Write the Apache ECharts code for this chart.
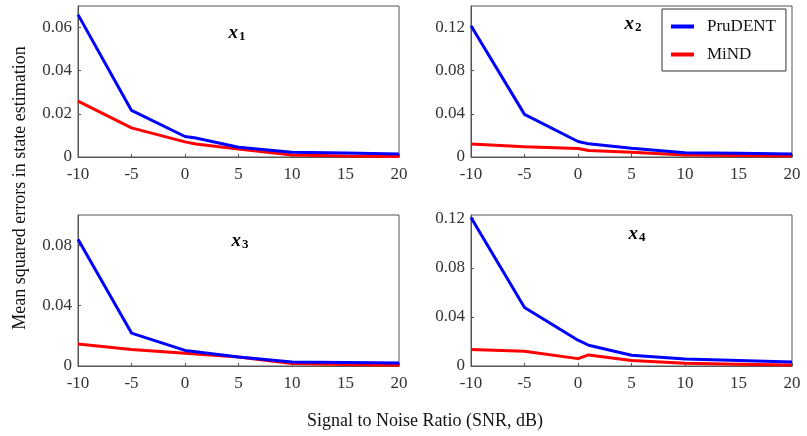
<!DOCTYPE html>
<html>
<head>
<meta charset="utf-8">
<script src="https://cdn.jsdelivr.net/npm/echarts@6/dist/echarts.min.js"></script>
<style>html,body{margin:0;padding:0;background:#fff}#c{width:807px;height:436px}</style>
</head>
<body>
<div id="c"></div>
<script>
const snr = [-10, -5, 0, 1, 5, 10, 15, 20];
const xTicks = [-10, -5, 0, 5, 10, 15, 20];
const seriesNames = ['PruDENT', 'MiND'];
const panelTitles = ['1', '2', '3', '4'];

const prudentX1 = [0.066, 0.0216, 0.0095, 0.0088, 0.0045, 0.0022, 0.0018, 0.0014];
const mindX1    = [0.0259, 0.0135, 0.0070, 0.0060, 0.0037, 0.0009, 0.0005, 0.0002];
const prudentX2 = [0.1217, 0.0395, 0.0144, 0.0122, 0.0082, 0.0040, 0.0034, 0.0028];
const mindX2    = [0.0120, 0.0094, 0.0078, 0.0060, 0.0044, 0.0019, 0.0014, 0.0010];
const prudentX3 = [0.0839, 0.0218, 0.0103, 0.0095, 0.0059, 0.0026, 0.0023, 0.0020];
const mindX3    = [0.0146, 0.0109, 0.0085, 0.0080, 0.0059, 0.0016, 0.0010, 0.0005];
const prudentX4 = [0.1209, 0.0476, 0.0210, 0.0169, 0.0087, 0.0057, 0.0045, 0.0033];
const mindX4    = [0.0134, 0.0120, 0.0060, 0.0090, 0.0044, 0.0022, 0.0015, 0.0008];

const yMax = [0.07, 0.14, 0.1, 0.123];
const yInterval = [0.02, 0.04, 0.04, 0.04];

const prudent = [prudentX1, prudentX2, prudentX3, prudentX4];
const mind = [mindX1, mindX2, mindX3, mindX4];

const FONT = '"Liberation Serif", "Times New Roman", serif';
const grids = [
  {left: 78, top: 6, width: 321, height: 151},
  {left: 471, top: 6, width: 321, height: 151},
  {left: 78, top: 215, width: 321, height: 151},
  {left: 471, top: 215, width: 321, height: 151}
];
const titlePos = [[237, 33], [633, 24], [240, 241], [637, 234]];

const option = {
  backgroundColor: '#fff',
  animation: false,
  grid: grids.map(g => Object.assign({show: true, borderColor: '#555', borderWidth: 1, backgroundColor: 'transparent'}, g)),
  xAxis: grids.map((g, i) => ({
    type: 'value', gridIndex: i, min: -10, max: 20, interval: 5,
    axisLine: {show: true, onZero: false, lineStyle: {color: '#555'}},
    axisTick: {show: true, inside: true, length: 3, lineStyle: {color: '#555'}},
    splitLine: {show: false},
    axisLabel: {fontFamily: FONT, fontSize: 17, color: '#333', margin: 9,
      formatter: v => xTicks.includes(v) ? String(v) : ''}
  })),
  yAxis: grids.map((g, i) => ({
    type: 'value', gridIndex: i, min: 0, max: yMax[i], interval: yInterval[i],
    axisLine: {show: true, onZero: false, lineStyle: {color: '#555'}},
    axisTick: {show: true, inside: true, length: 3, lineStyle: {color: '#555'}},
    splitLine: {show: false},
    axisLabel: {fontFamily: FONT, fontSize: 17, color: '#333', margin: 6, showMaxLabel: false,
      formatter: v => v === 0 ? '0' : String(+v.toFixed(3))}
  })),
  legend: {
    data: seriesNames,
    orient: 'vertical',
    left: 662, top: 9,
    borderColor: '#333', borderWidth: 1,
    padding: [9, 10, 8, 9],
    itemWidth: 23, itemHeight: 4, itemGap: 11,
    icon: 'rect',
    textStyle: {fontFamily: FONT, fontSize: 17, color: '#111', padding: [0, 0, 0, 8]}
  },
  series: [],
  graphic: [
    {type: 'text', x: 425, y: 421, style: {text: 'Signal to Noise Ratio (SNR, dB)', font: '18px ' + FONT, fill: '#111', align: 'center', verticalAlign: 'middle'}},
    {type: 'text', x: 20, y: 188, rotation: Math.PI / 2, style: {text: 'Mean squared errors in state estimation', font: '18px ' + FONT, fill: '#111', align: 'center', verticalAlign: 'middle'}}
  ]
};

for (let i = 0; i < 4; i++) {
  option.series.push({
    name: seriesNames[0], type: 'line', xAxisIndex: i, yAxisIndex: i, showSymbol: false, symbol: 'none',
    lineStyle: {color: '#0000ff', width: 3}, itemStyle: {color: '#0000ff'}, z: 3,
    data: snr.map((x, k) => [x, prudent[i][k]])
  });
  option.series.push({
    name: seriesNames[1], type: 'line', xAxisIndex: i, yAxisIndex: i, showSymbol: false, symbol: 'none',
    lineStyle: {color: '#ff0000', width: 3}, itemStyle: {color: '#ff0000'}, z: 2,
    data: snr.map((x, k) => [x, mind[i][k]])
  });
  option.graphic.push({
    type: 'text', x: titlePos[i][0], y: titlePos[i][1],
    style: {
      text: '{a|x}{b|' + panelTitles[i] + '}',
      align: 'center', verticalAlign: 'middle',
      rich: {
        a: {fontFamily: FONT, fontStyle: 'italic', fontWeight: 'bold', fontSize: 19, color: '#000'},
        b: {fontFamily: FONT, fontWeight: 'bold', fontSize: 13, color: '#000', padding: [7, 0, 0, 1]}
      }
    }
  });
}

const chart = echarts.init(document.getElementById('c'), null, {renderer: 'canvas'});
chart.setOption(option);
</script>
</body>
</html>
